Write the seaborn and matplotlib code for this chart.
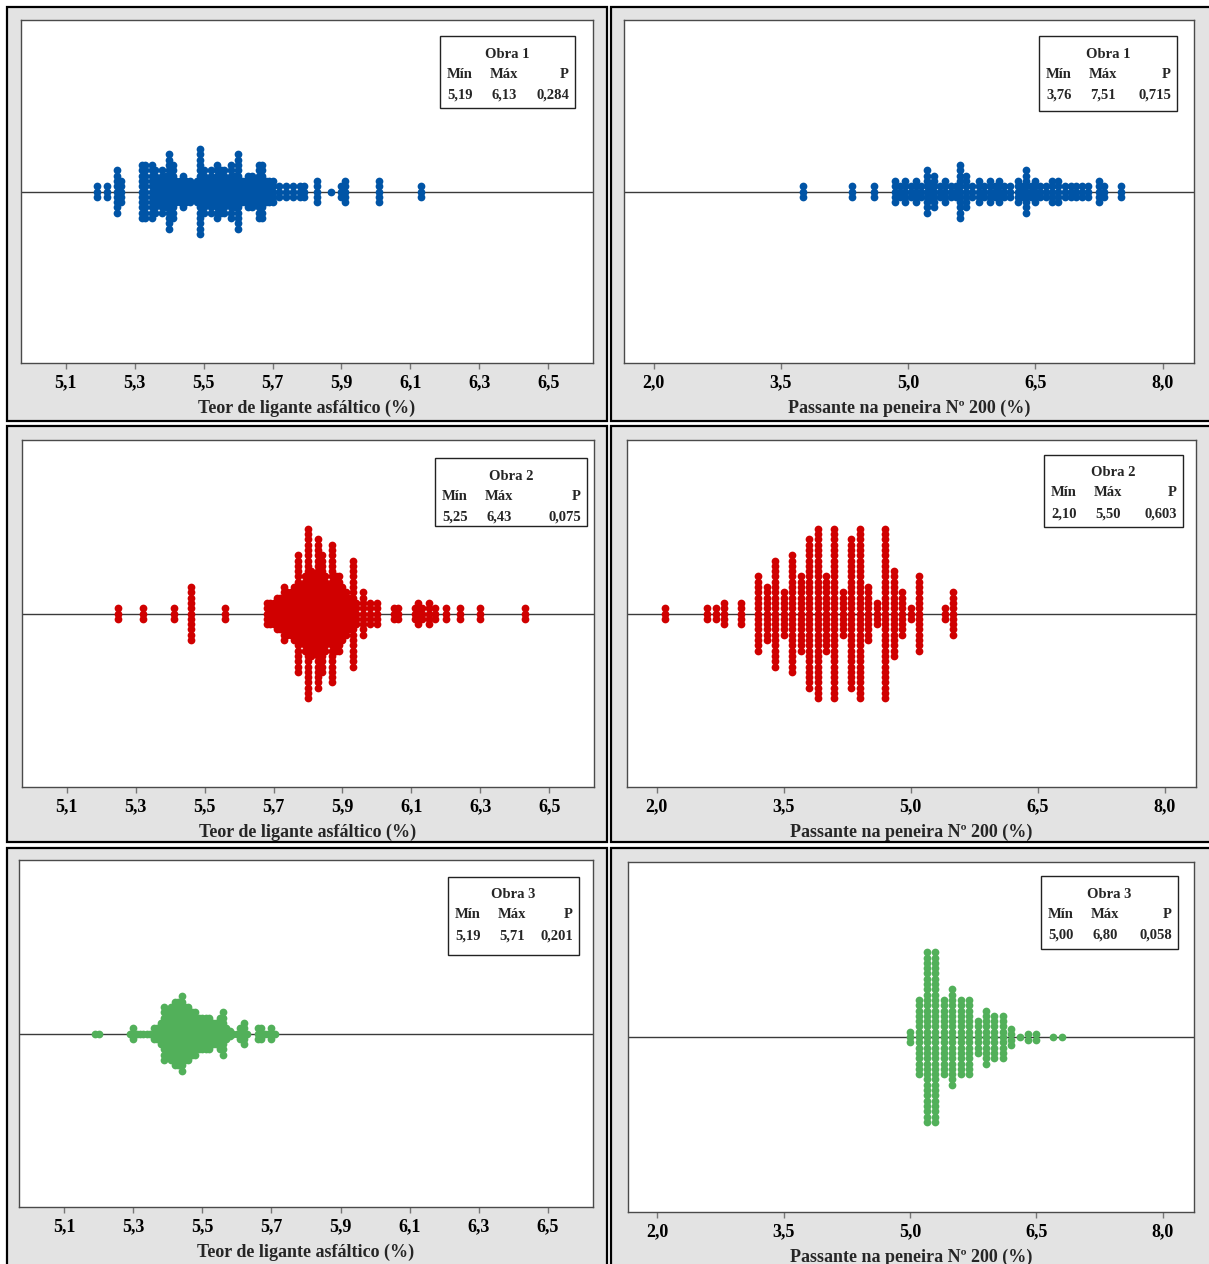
import numpy as np
import pandas as pd
import matplotlib
matplotlib.use("Agg")
import matplotlib.pyplot as plt
import seaborn as sns
from matplotlib.patches import Rectangle

# ---------------- DATA (value, number of stacked dots) ----------------
obra1_teor_vals = [5.19, 5.22, 5.25, 5.26, 5.32, 5.33, 5.35, 5.36, 5.37, 5.38, 5.39, 5.40, 5.41,
                   5.42, 5.43, 5.44, 5.45, 5.46, 5.47, 5.48, 5.49, 5.50, 5.51, 5.52, 5.53, 5.54,
                   5.55, 5.56, 5.57, 5.58, 5.59, 5.60, 5.61, 5.62, 5.63, 5.64, 5.65, 5.66, 5.67,
                   5.68, 5.69, 5.70, 5.72, 5.74, 5.76, 5.78, 5.79, 5.83, 5.87, 5.90, 5.91, 6.01, 6.13]
obra1_teor_cnts = [3, 3, 9, 5, 11, 11, 11, 9, 5, 9, 7, 15, 11,
                   5, 5, 7, 5, 5, 3, 5, 17, 9, 5, 9, 5, 11,
                   9, 9, 5, 11, 7, 15, 5, 5, 7, 7, 5, 11, 11,
                   5, 5, 5, 3, 3, 3, 3, 3, 5, 1, 3, 5, 5, 3]

obra1_pass_vals = [3.76, 4.34, 4.60, 4.84, 4.90, 4.96, 5.03, 5.09, 5.15, 5.22, 5.27, 5.31, 5.37,
                   5.44, 5.50, 5.56, 5.61, 5.68, 5.75, 5.83, 5.90, 5.96, 6.02, 6.07, 6.13, 6.20,
                   6.29, 6.34, 6.39, 6.45, 6.50, 6.56, 6.62, 6.70, 6.77, 6.85, 6.92, 6.98, 7.05,
                   7.12, 7.25, 7.31, 7.51]
obra1_pass_cnts = [3, 3, 3, 5, 3, 5, 3, 5, 3, 9, 3, 7, 3,
                   5, 3, 3, 11, 7, 3, 5, 3, 5, 3, 5, 3, 3,
                   5, 3, 9, 3, 5, 3, 3, 5, 5, 3, 3, 3, 3,
                   3, 5, 3, 3]

obra2_teor_vals = [5.25, 5.32, 5.41, 5.46, 5.56, 5.68, 5.69, 5.70, 5.71, 5.72, 5.73, 5.74, 5.75,
                   5.76, 5.77, 5.78, 5.79, 5.80, 5.81, 5.82, 5.83, 5.84, 5.85, 5.86, 5.87, 5.88,
                   5.89, 5.90, 5.91, 5.92, 5.93, 5.94, 5.96, 5.98, 6.00, 6.05, 6.06, 6.11, 6.12,
                   6.13, 6.15, 6.17, 6.20, 6.24, 6.30, 6.43]
obra2_teor_cnts = [3, 3, 3, 11, 3, 5, 5, 5, 7, 7, 11, 9, 9,
                   11, 23, 11, 15, 33, 17, 15, 29, 23, 15, 11, 27, 15,
                   15, 11, 9, 7, 21, 5, 9, 5, 5, 3, 3, 3, 5,
                   3, 5, 3, 3, 3, 3, 3]

obra2_pass_vals = [2.1, 2.6, 2.7, 2.8, 3.0, 3.2, 3.3, 3.4, 3.5, 3.6, 3.7, 3.8, 3.9, 4.0,
                   4.1, 4.2, 4.3, 4.4, 4.5, 4.6, 4.7, 4.8, 4.9, 5.0, 5.1, 5.4, 5.5]
obra2_pass_cnts = [3, 3, 3, 5, 5, 15, 11, 21, 9, 23, 15, 29, 33, 15,
                   33, 9, 29, 33, 11, 5, 33, 17, 9, 3, 15, 3, 9]

obra3_teor_vals = [5.19, 5.20, 5.29, 5.30, 5.31, 5.32, 5.33, 5.34, 5.35, 5.36, 5.37, 5.38, 5.39,
                   5.40, 5.41, 5.42, 5.43, 5.44, 5.45, 5.46, 5.47, 5.48, 5.49, 5.50, 5.51, 5.52,
                   5.53, 5.54, 5.55, 5.56, 5.57, 5.58, 5.59, 5.60, 5.61, 5.62, 5.63, 5.66, 5.67,
                   5.68, 5.69, 5.70, 5.71]
obra3_teor_cnts = [1, 1, 1, 3, 1, 1, 1, 1, 1, 3, 3, 5, 11,
                   9, 11, 13, 13, 15, 11, 11, 9, 9, 7, 7, 7, 7,
                   5, 5, 7, 9, 3, 2, 1, 1, 3, 5, 1, 3, 3,
                   1, 1, 3, 1]

obra3_pass_vals = [5.0, 5.1, 5.2, 5.3, 5.4, 5.5, 5.6, 5.7, 5.8, 5.9, 6.0, 6.1, 6.2, 6.3,
                   6.4, 6.5, 6.7, 6.8]
obra3_pass_cnts = [3, 15, 33, 33, 15, 19, 15, 15, 7, 11, 9, 9, 4, 1,
                   2, 2, 1, 1]

teor_ticks = [5.1, 5.3, 5.5, 5.7, 5.9, 6.1, 6.3, 6.5]
teor_labels = ["5,1", "5,3", "5,5", "5,7", "5,9", "6,1", "6,3", "6,5"]
pass_ticks = [2.0, 3.5, 5.0, 6.5, 8.0]
pass_labels = ["2,0", "3,5", "5,0", "6,5", "8,0"]

teor_xlabel = "Teor de ligante asfáltico (%)"
pass_xlabel = "Passante na peneira Nº 200 (%)"

obras = ["Obra 1", "Obra 2", "Obra 3"]
teor_min = ["5,19", "5,25", "5,19"]
teor_max = ["6,13", "6,43", "5,71"]
teor_p = ["0,284", "0,075", "0,201"]
pass_min = ["3,76", "2,10", "5,00"]
pass_max = ["7,51", "5,50", "6,80"]
pass_p = ["0,715", "0,603", "0,058"]

colors = ["#0054A6", "#D00000", "#52B05A"]

# ---------------- STYLE ----------------
sns.set_style("white")
plt.rcParams['font.family'] = ['Liberation Serif', 'DejaVu Serif']
plt.rcParams['font.weight'] = 'bold'

W, H = 1209, 1264
fig = plt.figure(figsize=(W / 100, H / 100), dpi=100)
fig.patch.set_facecolor('white')


def fx(x):
    return x / W


def fy(y):
    return 1 - y / H


def add_panel(x0, y0, x1, y1):
    fig.add_artist(Rectangle((fx(x0), fy(y1)), (x1 - x0) / W, (y1 - y0) / H,
                             transform=fig.transFigure, facecolor='#E3E3E3',
                             edgecolor='black', linewidth=1.6, zorder=0))


def stack(vals, cnts, step):
    xs, ys = [], []
    for v, n in zip(vals, cnts):
        for k in range(n):
            xs.append(v)
            ys.append((k - (n - 1) / 2) * step)
    return pd.DataFrame({'x': xs, 'y': ys})


def legend_box(box, title, mn, mx, p):
    x0, y0, x1, y1 = box
    fig.add_artist(Rectangle((fx(x0), fy(y1)), (x1 - x0) / W, (y1 - y0) / H,
                             transform=fig.transFigure, facecolor='white',
                             edgecolor='#222222', linewidth=1.0, zorder=5))
    cx = (x0 + x1) / 2
    c1 = x0 + 20
    c2 = x0 + 64
    cr = x1 - 6
    ty = y0 + 18
    hy = y0 + 38
    vy = y0 + 59
    kw = dict(fontsize=10.5, fontweight='bold', va='center', zorder=6)
    fig.text(fx(cx), fy(ty), title, ha='center', **kw)
    fig.text(fx(c1), fy(hy), "Mín", ha='center', **kw)
    fig.text(fx(c2), fy(hy), "Máx", ha='center', **kw)
    fig.text(fx(cr), fy(hy), "P", ha='right', **kw)
    fig.text(fx(c1), fy(vy), mn, ha='center', **kw)
    fig.text(fx(c2), fy(vy), mx, ha='center', **kw)
    fig.text(fx(cr), fy(vy), p, ha='right', **kw)


panels = [
    # panel rect, axes rect, legend box
    dict(panel=(7, 7, 607, 421), axes=(21, 20, 593, 363), box=(440, 36, 575, 108)),
    dict(panel=(611, 7, 1212, 421), axes=(624, 20, 1194, 363), box=(1039, 36, 1177, 111)),
    dict(panel=(7, 426, 607, 842), axes=(22, 440, 594, 787), box=(435, 458, 587, 526)),
    dict(panel=(611, 426, 1212, 842), axes=(627, 440, 1196, 787), box=(1044, 455, 1183, 527)),
    dict(panel=(7, 848, 607, 1270), axes=(19, 860, 593, 1207), box=(448, 877, 579, 955)),
    dict(panel=(611, 848, 1212, 1270), axes=(628, 862, 1194, 1212), box=(1041, 876, 1178, 949)),
]

datasets = [
    (obra1_teor_vals, obra1_teor_cnts, 'teor', 0),
    (obra1_pass_vals, obra1_pass_cnts, 'pass', 0),
    (obra2_teor_vals, obra2_teor_cnts, 'teor', 1),
    (obra2_pass_vals, obra2_pass_cnts, 'pass', 1),
    (obra3_teor_vals, obra3_teor_cnts, 'teor', 2),
    (obra3_pass_vals, obra3_pass_cnts, 'pass', 2),
]

step_px = 5.3
for cfg, (vals, cnts, kind, oi) in zip(panels, datasets):
    add_panel(*cfg['panel'])
    ax0, ay0, ax1, ay1 = cfg['axes']
    ax = fig.add_axes([fx(ax0), fy(ay1), (ax1 - ax0) / W, (ay1 - ay0) / H])
    ax.set_facecolor('white')
    step = step_px / (ay1 - ay0) * 2.0
    df = stack(vals, cnts, step)
    ax.axhline(0, color='#3a3a3a', lw=1.0, zorder=1)
    sns.scatterplot(data=df, x='x', y='y', color=colors[oi], s=31, linewidth=0,
                    ax=ax, zorder=3, legend=False)
    ax.set_ylim(-1, 1)
    ax.set_yticks([])
    ax.set_ylabel('')
    if kind == 'teor':
        ax.set_xlim(4.97, 6.63)
        ax.set_xticks(teor_ticks)
        ax.set_xticklabels(teor_labels)
        ax.set_xlabel(teor_xlabel, fontsize=13, fontweight='bold', labelpad=6)
        legend_box(cfg['box'], obras[oi], teor_min[oi], teor_max[oi], teor_p[oi])
    else:
        ax.set_xlim(1.65, 8.37)
        ax.set_xticks(pass_ticks)
        ax.set_xticklabels(pass_labels)
        ax.set_xlabel(pass_xlabel, fontsize=13, fontweight='bold', labelpad=6)
        legend_box(cfg['box'], obras[oi], pass_min[oi], pass_max[oi], pass_p[oi])
    for sp in ax.spines.values():
        sp.set_visible(True)
        sp.set_color('#4a4a4a')
        sp.set_linewidth(1.0)
    ax.tick_params(axis='x', bottom=True, direction='out', length=4, width=1,
                   color='#777777', labelcolor='black', labelsize=13, pad=4)
    for lab in ax.get_xticklabels():
        lab.set_fontweight('bold')

fig.savefig("out.png", dpi=100, facecolor='white')
